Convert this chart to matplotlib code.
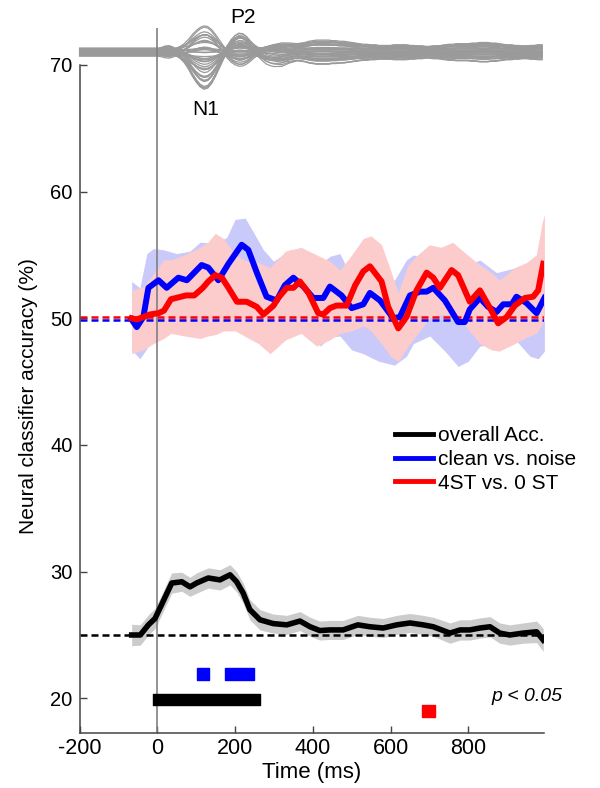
# Decoding accuracy over time with ERP butterfly traces on top

import numpy as np
import matplotlib
matplotlib.use('Agg')
import matplotlib.pyplot as plt
from matplotlib.lines import Line2D

# ---- classifier accuracy curves (ms, %) ----
blue_t = [-66, -53, -36, -23, 3, 24, 54, 76, 114, 131, 157, 183, 217, 234, 256, 281, 307, 328,
          350, 376, 401, 427, 444, 474, 500, 530, 547, 573, 607, 624, 650, 676, 693, 710, 740,
          774, 791, 804, 830, 851, 873, 890, 912, 924, 950, 976, 996]
blue_v = [49.9, 49.3, 50.1, 52.4, 53.0, 52.4, 53.2, 53.0, 54.2, 54.0, 53.0, 54.3, 55.8, 55.4,
          53.6, 51.7, 51.4, 52.6, 53.2, 52.5, 51.6, 51.6, 52.5, 51.8, 50.8, 51.1, 52.0, 51.4,
          50.0, 50.1, 51.8, 52.1, 52.1, 52.4, 51.4, 49.7, 49.7, 50.7, 51.6, 50.9, 50.5, 51.1,
          51.1, 51.7, 51.2, 50.4, 51.6]

red_t = [-66, -53, -36, -19, 3, 17, 35, 48, 74, 95, 117, 131, 149, 166, 183, 205, 230, 256, 273,
         299, 311, 333, 350, 367, 389, 414, 427, 444, 461, 487, 509, 530, 547, 577, 594, 620, 641,
         667, 693, 710, 727, 757, 774, 804, 830, 856, 877, 899, 920, 946, 967, 980, 993]
red_v = [50.0, 49.9, 50.1, 50.3, 50.4, 50.6, 51.5, 51.6, 51.8, 51.8, 52.4, 52.9, 53.4, 53.2, 52.4,
         51.3, 51.3, 50.9, 50.3, 51.0, 51.6, 52.4, 52.4, 52.9, 52.0, 50.4, 50.3, 50.8, 51.0, 51.0,
         52.6, 53.7, 54.1, 52.9, 50.9, 49.2, 50.1, 52.2, 53.6, 53.2, 52.4, 53.8, 53.4, 51.3, 52.2,
         50.8, 49.6, 50.1, 51.0, 51.6, 51.7, 52.2, 54.3]

black_t = [-66, -44, -23, -6, 11, 37, 63, 84, 101, 131, 161, 187, 204, 221, 238, 264, 298, 333,
           367, 393, 418, 444, 478, 516, 547, 581, 616, 650, 684, 710, 753, 779, 804, 830, 856,
           881, 907, 941, 976, 993]
black_v = [25.0, 25.0, 25.8, 26.3, 27.4, 29.1, 29.2, 28.8, 29.1, 29.5, 29.35, 29.75, 29.2, 28.3,
           27.0, 26.2, 25.9, 25.8, 26.1, 25.65, 25.35, 25.4, 25.4, 25.8, 25.65, 25.55, 25.8,
           25.95, 25.8, 25.65, 25.15, 25.4, 25.4, 25.55, 25.65, 25.15, 25.0, 25.15, 25.25, 24.6]
black_sem = [0.85, 0.8, 0.8, 0.8, 0.8, 0.8, 0.75, 0.75, 0.8, 0.8, 0.8, 0.8, 0.8, 0.8, 0.8, 0.8,
             0.75, 0.75, 0.75, 0.75, 0.75, 0.75, 0.75, 0.75, 0.75, 0.75, 0.75, 0.75, 0.75, 0.75,
             0.8, 0.8, 0.8, 0.8, 0.8, 0.8, 0.8, 0.8, 0.85, 0.9]

# ---- error bands ----
blue_band_t = [-66, -45, -27, -10, 16, 50, 84, 110, 153, 179, 200, 226, 247, 273, 299, 342, 368,
               393, 419, 445, 470, 500, 530, 570, 610, 641, 659, 701, 740, 774, 800, 830, 873,
               924, 959, 980, 996]
blue_hi = [52.9, 52.4, 55.1, 55.5, 55.4, 55.1, 55.3, 56.0, 55.9, 56.4, 57.8, 57.9, 56.8, 55.4,
           54.5, 55.4, 55.4, 54.5, 54.3, 54.9, 55.1, 53.2, 53.0, 53.0, 53.0, 54.6, 55.0, 54.6,
           54.2, 53.8, 54.2, 54.6, 53.6, 54.0, 54.0, 54.6, 54.5]
blue_lo = [47.5, 46.8, 47.6, 49.5, 49.8, 50.2, 50.3, 51.0, 51.5, 52.5, 53.7, 53.6, 52.0, 49.8,
           48.6, 49.5, 49.8, 49.0, 47.8, 48.5, 48.6, 47.5, 47.2, 46.6, 46.3, 47.0, 48.0, 48.6,
           47.4, 46.2, 46.6, 47.8, 48.0, 48.2, 47.0, 46.8, 47.4]

red_band_t = [-66, -36, -10, 16, 35, 70, 110, 130, 149, 170, 200, 230, 260, 290, 330, 370, 410,
              444, 470, 500, 530, 550, 577, 600, 620, 645, 670, 700, 730, 760, 790, 830, 860,
              880, 920, 950, 975, 990, 996]
red_hi = [52.2, 52.5, 53.5, 54.6, 54.6, 55.0, 55.6, 56.0, 56.7, 56.3, 55.0, 54.5, 54.4, 54.0,
          55.3, 55.6, 55.0, 54.5, 53.8, 55.0, 56.3, 56.5, 55.8, 53.8, 52.0, 54.2, 55.0, 55.8,
          55.6, 56.0, 55.2, 54.2, 53.6, 53.0, 54.0, 54.4, 55.0, 57.5, 58.2]
red_lo = [47.2, 47.5, 48.0, 48.4, 48.8, 48.6, 48.4, 48.6, 48.7, 49.0, 49.0, 48.5, 48.0, 47.2,
          48.3, 48.8, 47.8, 48.3, 48.8, 49.0, 49.4, 49.0, 48.0, 47.0, 46.6, 47.8, 48.8, 50.0,
          50.3, 50.3, 49.5, 48.0, 47.5, 47.4, 48.0, 48.5, 48.8, 49.5, 50.0]

chance_red = 50.1
chance_blue = 49.85
chance_black = 25.0

# ---- significant time windows (start ms, end ms) ----
sig_black = [(-10, 265)]
sig_blue = [(102, 133), (175, 250)]
sig_red = [(682, 714)]

# ---- ERP butterfly (10 ms steps from -200 ms) ----
erp_t = np.arange(-200, 1000, 10)
erp_main = [0.0] * 20 + [
    0.0, 0.1, 0.25, 0.3, 0.15, -0.1, -0.35, -0.7, -1.2, -1.8,
    -2.3, -2.7, -2.9, -2.8, -2.4, -1.8, -1.1, -0.4, 0.3, 0.85,
    1.2, 1.4, 1.35, 1.1, 0.7, 0.3, 0.0, -0.2, -0.35, -0.4,
    -0.4, -0.35, -0.3, -0.2, -0.1, -0.05] + [0.0] * 64
erp_late = [0.0] * 45 + [
    0.1, 0.2, 0.35, 0.5, 0.6, 0.7, 0.75, 0.8, 0.75, 0.7,
    0.65, 0.6, 0.65, 0.7, 0.8, 0.85, 0.9, 0.9, 0.9, 0.9,
    0.85, 0.85, 0.8, 0.8, 0.75, 0.7, 0.65, 0.6, 0.55, 0.55,
    0.5, 0.5, 0.45, 0.45, 0.45, 0.45, 0.5, 0.5, 0.5, 0.5,
    0.45, 0.45, 0.4, 0.4, 0.35, 0.35, 0.4, 0.4, 0.45, 0.5,
    0.55, 0.55, 0.6, 0.6, 0.6, 0.6, 0.65, 0.65, 0.7, 0.7,
    0.7, 0.65, 0.65, 0.6, 0.55, 0.5, 0.5, 0.45, 0.45, 0.4,
    0.4, 0.45, 0.45, 0.5, 0.5]
chan_gain = [1.0, 0.94, 0.87, 0.8, 0.73, 0.66, 0.6, 0.53, 0.46, 0.4, 0.34, 0.28, 0.22, 0.16, 0.1,
             0.05, 0.0, -0.05, -0.1, -0.16, -0.22, -0.28, -0.34, -0.4, -0.46, -0.52, -0.58,
             -0.63, -0.68, 0.9, 0.3, -0.2, 0.97, 0.76, 0.57, 0.43, 0.19, -0.13, -0.37, -0.55]
chan_late = [0.3, -0.8, 0.6, -0.2, 1.0, -0.5, 0.1, 0.8, -1.0, 0.4, -0.3, 0.7, -0.7, 0.2, -0.1,
             0.9, -0.6, 0.5, -0.9, 0.0, 0.6, -0.4, 0.3, -0.8, 0.8, -0.2, 0.4, -0.6, 0.1, -0.3,
             0.7, -0.5, -0.65, 0.45, -0.15, 0.95, -0.85, 0.25, -0.45, 0.55]
chan_offset = [0.1, -0.2, 0.25, 0.0, -0.1, 0.3, -0.25, 0.15, -0.05, 0.2, -0.3, 0.05, 0.1, -0.15,
               0.25, -0.2, 0.0, 0.15, -0.1, 0.3, -0.25, 0.05, -0.05, 0.2, -0.15, 0.1, -0.3, 0.25,
               0.0, -0.1, 0.15, -0.2, -0.05, 0.2, -0.25, 0.1, 0.05, -0.15, 0.3, -0.2]
erp_base = 71.0

legend_labels = ['overall Acc.', 'clean vs. noise', '4ST vs. 0 ST']

BLUE = '#0000ff'
RED = '#ff0000'

plt.rcParams['font.family'] = ['Liberation Sans', 'DejaVu Sans']
plt.rcParams['axes.unicode_minus'] = False

fig = plt.figure(figsize=(6, 7.88), dpi=100)
ax = fig.add_axes([0.1327, 0.0702, 0.774, 0.9038])
ymin, ymax = 17.29, 73.5
ax.set_xlim(-200, 995)
ax.set_ylim(ymin, ymax)

# shaded error bands
ax.fill_between(blue_band_t, blue_lo, blue_hi, color='#cacafa', lw=0, zorder=1)
ax.fill_between(red_band_t, red_lo, red_hi, color='#fccccc', lw=0, zorder=1.1)
b_v = np.array(black_v)
b_s = np.array(black_sem)
ax.fill_between(black_t, b_v - b_s, b_v + b_s, color='#cccccc', lw=0, zorder=1)

# chance levels
dash = (0, (2.8, 1.6))
ax.axhline(chance_red, color=RED, ls=dash, lw=1.8, zorder=2)
ax.axhline(chance_blue, color=BLUE, ls=dash, lw=1.8, zorder=2)
ax.axhline(chance_black, color='black', ls=dash, lw=1.8, zorder=2)

# stimulus onset
ax.vlines(0, ymin, 72.9, color='#808080', lw=1.2, zorder=2.5, clip_on=False)

# ERP butterfly traces
main = np.array(erp_main)
late = np.array(erp_late)
for g, g2, off in zip(chan_gain, chan_late, chan_offset):
    ax.plot(erp_t, erp_base + off + g * main + g2 * late, color='#9a9a9a', lw=0.9,
            zorder=2, clip_on=False)

# accuracy curves
ax.plot(black_t, black_v, color='black', lw=4.0, zorder=3, solid_joinstyle='round')
ax.plot(blue_t, blue_v, color=BLUE, lw=4.3, zorder=3, solid_joinstyle='round')
ax.plot(red_t, red_v, color=RED, lw=4.3, zorder=3.1, solid_joinstyle='round')

# significance bars
ax.broken_barh([(a, b - a) for a, b in sig_black], (19.49, 0.87), color='black', zorder=3)
ax.broken_barh([(a, b - a) for a, b in sig_blue], (21.43, 1.0), color=BLUE, zorder=3)
ax.broken_barh([(a, b - a) for a, b in sig_red], (18.5, 0.98), color=RED, zorder=3)
ax.text(860, 19.8, 'p < 0.05', fontsize=14, style='italic', ha='left', va='baseline')

ax.text(124, 66.05, 'N1', fontsize=15, ha='center', va='baseline')
ax.text(221, 73.28, 'P2', fontsize=15, ha='center', va='baseline')

# legend
handles = [Line2D([], [], color=c, lw=3.5) for c in ['black', BLUE, RED]]
ax.legend(handles, legend_labels, loc='upper left', bbox_to_anchor=(0.679, 0.43),
          frameon=False, fontsize=15, borderpad=0, borderaxespad=0, handlelength=1.83,
          handletextpad=0.24, labelspacing=0.22)

# axes styling
for s in ['top', 'right']:
    ax.spines[s].set_visible(False)
for s in ['left', 'bottom']:
    ax.spines[s].set_color('#444444')
    ax.spines[s].set_linewidth(1.1)
ax.spines['left'].set_bounds(ymin, 70)
ax.set_xticks([-200, 0, 200, 400, 600, 800])
ax.set_yticks([20, 30, 40, 50, 60, 70])
ax.tick_params(direction='in', length=5, width=1, color='#444444')
ax.tick_params(axis='y', pad=5, labelsize=14.5)
ax.tick_params(axis='x', pad=4, labelsize=15.5)
ax.set_xlabel('Time (ms)', fontsize=16, labelpad=2)
ax.set_ylabel('Neural classifier accuracy (%)', fontsize=15)
ax.yaxis.set_label_coords(-0.09, 0.472)

fig.savefig('out.png', dpi=100)
